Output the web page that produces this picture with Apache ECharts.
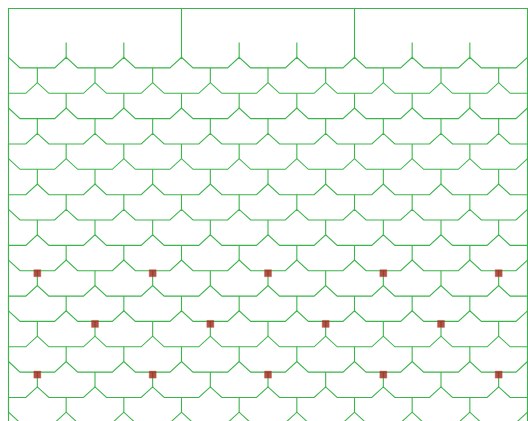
<!DOCTYPE html>
<html>
<head>
<meta charset="utf-8">
<script src="https://cdn.jsdelivr.net/npm/echarts@6/dist/echarts.min.js"></script>
<style>html,body{margin:0;padding:0;background:#fff}#c{width:528px;height:421px}</style>
</head>
<body>
<div id="c"></div>
<script>
// Column positions (half-periods of the shingle pattern)
const xCols = [0,1,2,3,4,5,6,7,8,9,10,11,12,13,14,15,16,17,18];
// Peak height of each shingle row (pixel units from top)
const rowPeakY = [57.3, 82.7, 108.0, 133.4, 158.7, 184.1, 209.4, 234.8, 260.1, 285.5, 310.8, 336.2, 361.5, 386.9, 412.2];
const slopeDrop = 10.6;        // peak -> flat
const slopeHalfWidth = 0.4;    // horizontal reach of slope
const tailLength = 14.75;      // vertical below last row
const topBorderY = 8.5;
const stubTopY = 42.5;
const topStubX = [2, 4, 8, 10, 14, 16];
const dividerX = [6, 12];
const markerRows = [8, 10, 12];
const markerCols = [[1, 5, 9, 13, 17], [3, 7, 11, 15], [1, 5, 9, 13, 17]];
const markerDrop = 2.5;

const X_MAX = 18, Y_MAX = 421;
const segs = [];
// border
segs.push({coords: [[0, Y_MAX + 5], [0, topBorderY], [X_MAX, topBorderY], [X_MAX, Y_MAX + 5]]});
// top dividers and stubs
dividerX.forEach(x => segs.push({coords: [[x, topBorderY], [x, rowPeakY[0]]]}));
topStubX.forEach(x => segs.push({coords: [[x, stubTopY], [x, rowPeakY[0]]]}));
// rows
rowPeakY.forEach((P, r) => {
  const F = P + slopeDrop;
  const p = r % 2;
  const pts = [];
  xCols.forEach(x => {
    if (x % 2 === p) {
      if (x > 0) pts.push([x - slopeHalfWidth, F]);
      pts.push([x, P]);
      if (x < X_MAX) pts.push([x + slopeHalfWidth, F]);
    } else {
      if (x === 0 || x === X_MAX) pts.push([x, F]);
    }
  });
  segs.push({coords: pts});
  const nextP = r + 1 < rowPeakY.length ? rowPeakY[r + 1] : F + tailLength;
  xCols.forEach(x => {
    if (x % 2 !== p) segs.push({coords: [[x, F], [x, nextP]]});
  });
});
const markers = [];
markerRows.forEach((r, i) => {
  markerCols[i].forEach(x => markers.push([x, rowPeakY[r] + slopeDrop + markerDrop]));
});

const chart = echarts.init(document.getElementById('c'), null, {renderer: 'canvas'});
chart.setOption({
  animation: false,
  grid: {left: 8.5, right: 0.5, top: 0, bottom: 0},
  xAxis: {type: 'value', min: 0, max: X_MAX, show: false},
  yAxis: {type: 'value', min: 0, max: Y_MAX, inverse: true, show: false},
  series: [
    {
      type: 'lines', coordinateSystem: 'cartesian2d', polyline: true, clip: false,
      silent: true,
      lineStyle: {color: '#3cb44b', width: 1.1, opacity: 1},
      data: segs
    },
    {
      type: 'scatter', symbol: 'rect', symbolSize: 7, clip: false,
      itemStyle: {color: '#a0261a', borderColor: 'rgba(200,80,70,0.5)', borderWidth: 1},
      data: markers
    }
  ]
});
</script>
</body>
</html>
